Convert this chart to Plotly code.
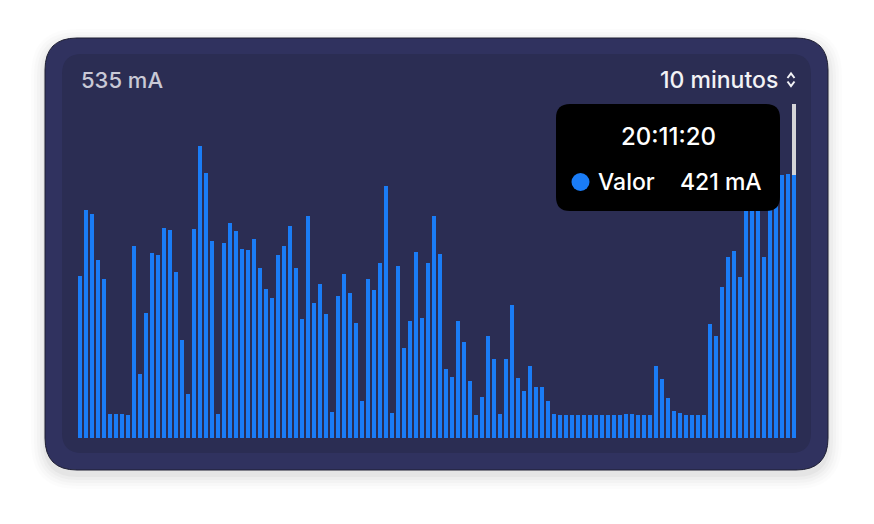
import pandas as pd
import plotly.graph_objects as go

# current draw in mA, one bar every 5 seconds over the last 10 minutes
valores = [260, 365, 359, 285, 254, 38, 39, 38, 37, 307,
           103, 201, 296, 293, 336, 333, 266, 157, 71, 334,
           468, 425, 315, 38, 312, 344, 331, 303, 301, 318,
           273, 238, 225, 293, 308, 339, 273, 191, 356, 216,
           247, 199, 41, 228, 262, 232, 185, 59, 254, 237,
           281, 404, 40, 275, 144, 188, 298, 192, 280, 355,
           294, 111, 98, 188, 153, 91, 37, 65, 163, 126,
           39, 126, 213, 96, 76, 115, 82, 81, 60, 38,
           37, 37, 37, 37, 37, 37, 37, 37, 37, 37,
           37, 39, 38, 37, 37, 37, 115, 94, 64, 43,
           40, 37, 37, 37, 37, 183, 163, 242, 290, 300,
           258, 395, 410, 415, 290, 405, 418, 422, 423, 421]
horas = pd.date_range(end="2024-01-01 20:11:20", periods=len(valores), freq="5s").strftime("%H:%M:%S").tolist()

y_max = 535
titulo = "535 mA"
periodo = "10 minutos"
hover_idx = len(valores) - 1

BLUE = "#1a7cf6"
CARD = "#30325f"
PANEL = "#2b2d53"

# plot area in pixels (bars area); helpers convert pixels -> paper coords
L, R, T, B = 77, 797, 104, 438
W, H = 874, 524


def px(x):
    return (x - L) / (R - L)


def py(y):
    return (B - y) / (B - T)


def rrect(x0, y0, x1, y1, r):
    # rounded rectangle path in paper coordinates
    pts = [
        ("M", x0 + r, y0), ("L", x1 - r, y0), ("Q", x1, y0, x1, y0 + r),
        ("L", x1, y1 - r), ("Q", x1, y1, x1 - r, y1), ("L", x0 + r, y1),
        ("Q", x0, y1, x0, y1 - r), ("L", x0, y0 + r), ("Q", x0, y0, x0 + r, y0),
    ]
    s = ""
    for p in pts:
        if p[0] == "Q":
            s += f"Q{px(p[1]):.5f},{py(p[2]):.5f} {px(p[3]):.5f},{py(p[4]):.5f} "
        else:
            s += f"{p[0]}{px(p[1]):.5f},{py(p[2]):.5f} "
    return s + "Z"


fig = go.Figure()
fig.add_trace(go.Bar(x=horas, y=valores, marker=dict(color=BLUE, line=dict(width=0)), name="Valor"))
# hover highlight above the selected bar
extra = [None] * len(valores)
extra[hover_idx] = y_max - valores[hover_idx]
fig.add_trace(go.Bar(x=horas, y=extra, marker=dict(color="#d4d4d8", line=dict(width=0)), showlegend=False))

shapes = []
# soft shadow under the card
for i, op in enumerate([0.012, 0.015, 0.02, 0.025, 0.03]):
    g = 14 - i * 3
    shapes.append(dict(type="path", xref="paper", yref="paper", layer="below", line=dict(width=0),
                       fillcolor=f"rgba(0,0,0,{op})",
                       path=rrect(45 - g, 38 - g + 5, 828 + g, 470 + g + 5, 32 + g)))
shapes.append(dict(type="path", xref="paper", yref="paper", layer="below",
                   line=dict(width=1, color="#1e1f33"), fillcolor=CARD, path=rrect(45, 38, 828, 470, 32)))
shapes.append(dict(type="path", xref="paper", yref="paper", layer="below",
                   line=dict(width=0), fillcolor=PANEL, path=rrect(62, 54, 811, 453, 20)))
# tooltip box
shapes.append(dict(type="path", xref="paper", yref="paper", layer="above",
                   line=dict(width=0), fillcolor="#000000", path=rrect(556, 104, 780, 211, 14)))
shapes.append(dict(type="circle", xref="paper", yref="paper", layer="above", line=dict(width=0),
                   fillcolor=BLUE, x0=px(571.5), x1=px(589.5), y0=py(191), y1=py(173)))
# up/down chevron next to the period selector
for pth in [f"M{px(787.5)},{py(78)} L{px(791)},{py(73.5)} L{px(794.5)},{py(78)}",
            f"M{px(787.5)},{py(81.5)} L{px(791)},{py(86)} L{px(794.5)},{py(81.5)}"]:
    shapes.append(dict(type="path", xref="paper", yref="paper", layer="above",
                       line=dict(width=2, color="#f2f2f5"), path=pth))

FONT = "Inter, Roboto, sans-serif"
annotations = [
    dict(text=titulo, x=px(79), y=py(80), xanchor="left", yanchor="middle",
         font=dict(size=22, color="#c9c9d6", family=FONT, weight=500)),
    dict(text=periodo, x=px(780), y=py(80), xanchor="right", yanchor="middle",
         font=dict(size=23, color="#f2f2f5", family=FONT, weight=500)),
    dict(text=horas[hover_idx], x=px(668), y=py(136), xanchor="center", yanchor="middle",
         font=dict(size=24, color="#ffffff", family=FONT, weight=500)),
    dict(text="Valor", x=px(596), y=py(182), xanchor="left", yanchor="middle",
         font=dict(size=23, color="#ffffff", family=FONT, weight=500)),
    dict(text=f"{valores[hover_idx]} mA", x=px(764), y=py(182), xanchor="right", yanchor="middle",
         font=dict(size=23, color="#ffffff", family=FONT, weight=500)),
]
for a in annotations:
    a.update(xref="paper", yref="paper", showarrow=False)

fig.update_layout(
    width=W, height=H,
    margin=dict(l=L, r=W - R, t=T, b=H - B, pad=0),
    paper_bgcolor="#ffffff", plot_bgcolor="rgba(0,0,0,0)",
    barmode="stack", bargap=1 / 3, showlegend=False, hovermode=False,
    shapes=shapes, annotations=annotations,
    xaxis=dict(visible=False, type="category"),
    yaxis=dict(visible=False, range=[0, y_max]),
)

fig.write_html("out.html", config={"displayModeBar": False},
               post_script="document.body.style.margin='0';document.body.style.overflow='hidden';")
